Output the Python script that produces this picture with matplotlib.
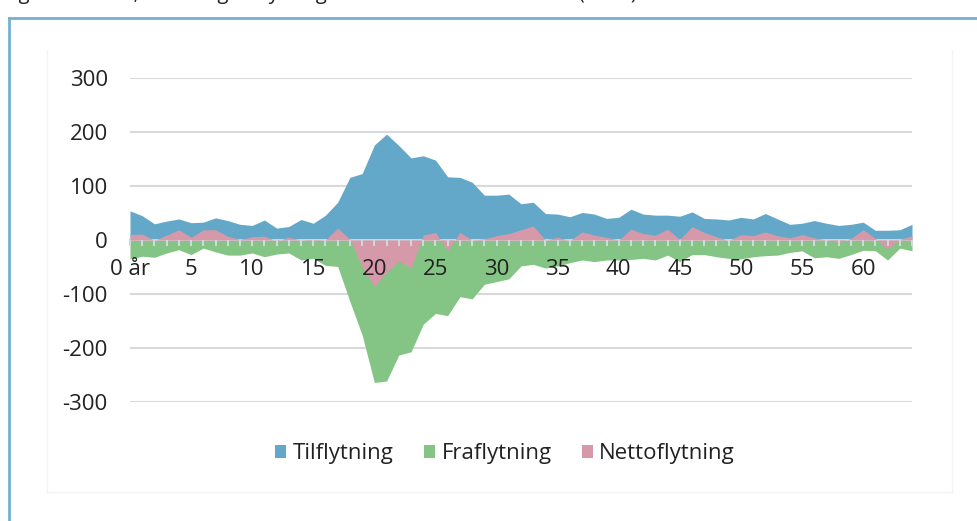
import matplotlib
matplotlib.use("Agg")
import matplotlib.pyplot as plt
from matplotlib.lines import Line2D
from matplotlib.patches import Patch
import numpy as np

plt.rcParams['font.family'] = ['Open Sans', 'DejaVu Sans']

ages = list(range(0, 65))
tilflytning = [54, 45, 30, 35, 39, 32, 33, 41, 36, 29, 27, 37, 22, 25, 38, 31, 46, 70, 116, 123,
               176, 196, 175, 152, 156, 148, 117, 116, 107, 83, 83, 85, 67, 70, 49, 48, 43, 51, 48, 40,
               42, 57, 48, 46, 46, 44, 52, 40, 39, 37, 42, 39, 49, 39, 29, 31, 36, 31, 27, 29,
               33, 18, 18, 19, 29]
fraflytning = [-35, -30, -32, -24, -18, -27, -15, -22, -28, -28, -24, -31, -26, -24, -37, -34, -47, -49, -114, -176,
               -264, -261, -213, -207, -156, -136, -140, -105, -109, -82, -77, -72, -48, -45, -52, -48, -42, -37, -40, -37,
               -37, -36, -34, -37, -28, -40, -27, -27, -31, -34, -35, -31, -29, -28, -23, -20, -33, -31, -34, -27,
               -19, -20, -37, -15, -20]
nettoflytning = [10, 11, -1, 9, 19, 5, 19, 19, 7, 1, 6, 7, -2, 5, 0, -2, 0, 22, 1, -50,
                 -86, -60, -39, -52, 9, 14, -20, 14, 0, 2, 8, 12, 19, 26, 0, 5, -1, 15, 9, 5,
                 0, 20, 12, 9, 20, 1, 25, 14, 6, -1, 10, 8, 15, 8, 4, 10, 4, 0, -5, 3,
                 19, 3, -17, 1, 8]
series_names = ["Tilflytning", "Fraflytning", "Nettoflytning"]
colors = ["#63a8c8", "#84c484", "#d699aa"]
yticks = [-300, -200, -100, 0, 100, 200, 300]
xtick_pos = list(range(0, 61, 5))
xtick_labels = ["0 år"] + [str(v) for v in range(5, 61, 5)]
title = "Figur 11 Alder, fordeling af flytninger efter alder i kommunen (2019)"

W, H = 978, 521
FS = 16
fig = plt.figure(figsize=(W / 100, H / 100), dpi=100)

# partially visible title (clipped at the top)
fig.text(3 / W, 1 + 1.5 / H, title, fontsize=14.5, va='baseline', ha='left', color='#222222')

# outer frame lines
fig.add_artist(Line2D([9 / W, 9 / W], [0, 1 - 18 / H], color='#74b0d2', lw=2))
fig.add_artist(Line2D([9 / W, 1], [1 - 18 / H, 1 - 18 / H], color='#74b0d2', lw=2))
# faint inner box
fig.add_artist(Line2D([47 / W, 47 / W], [1 - 492 / H, 1 - 50 / H], color='#f4f4f4', lw=1))
fig.add_artist(Line2D([952 / W, 952 / W], [1 - 492 / H, 1 - 50 / H], color='#f4f4f4', lw=1))
fig.add_artist(Line2D([47 / W, 952 / W], [1 - 492 / H, 1 - 492 / H], color='#f4f4f4', lw=1))

ax = fig.add_axes([130 / W, 1 - 402 / H, 782 / W, 324 / H])
ax.set_xlim(0, 64)
ax.set_ylim(-300, 300)

for yv in yticks:
    if yv != 0:
        ax.axhline(yv, color='#d9d9d9', lw=1.5, zorder=0)

x = np.array(ages)
ax.fill_between(x, 0, tilflytning, color=colors[0], lw=0, zorder=1)
ax.fill_between(x, 0, fraflytning, color=colors[1], lw=0, zorder=2)
ax.fill_between(x, 0, nettoflytning, color=colors[2], lw=0, zorder=3)

for s in ['top', 'right', 'left']:
    ax.spines[s].set_visible(False)
ax.spines['bottom'].set_position(('data', 0))
ax.spines['bottom'].set_color('#cfd3d8')
ax.spines['bottom'].set_linewidth(1.5)
ax.xaxis.set_zorder(5)

ax.set_xticks(xtick_pos)
ax.set_xticklabels(xtick_labels)
ax.set_xticks(ages, minor=True)
ax.tick_params(axis='x', which='both', direction='out', length=4.5, width=1.5,
               color='#d3d6db', labelsize=FS, labelcolor='#222222', pad=9.5)
ax.set_yticks(yticks)
ax.set_yticklabels([str(v) for v in yticks])
ax.tick_params(axis='y', length=0, labelsize=FS, labelcolor='#222222', pad=16)

handles = [Patch(facecolor=c, edgecolor='none') for c in colors]
fig.legend(handles, series_names, loc='center', bbox_to_anchor=(505 / W, 1 - 454 / H),
           ncol=3, frameon=False, fontsize=FS, handlelength=0.5, handleheight=0.5,
           handletextpad=0.3, columnspacing=1.35, labelcolor='#222222')

fig.savefig("out.png", dpi=100)
